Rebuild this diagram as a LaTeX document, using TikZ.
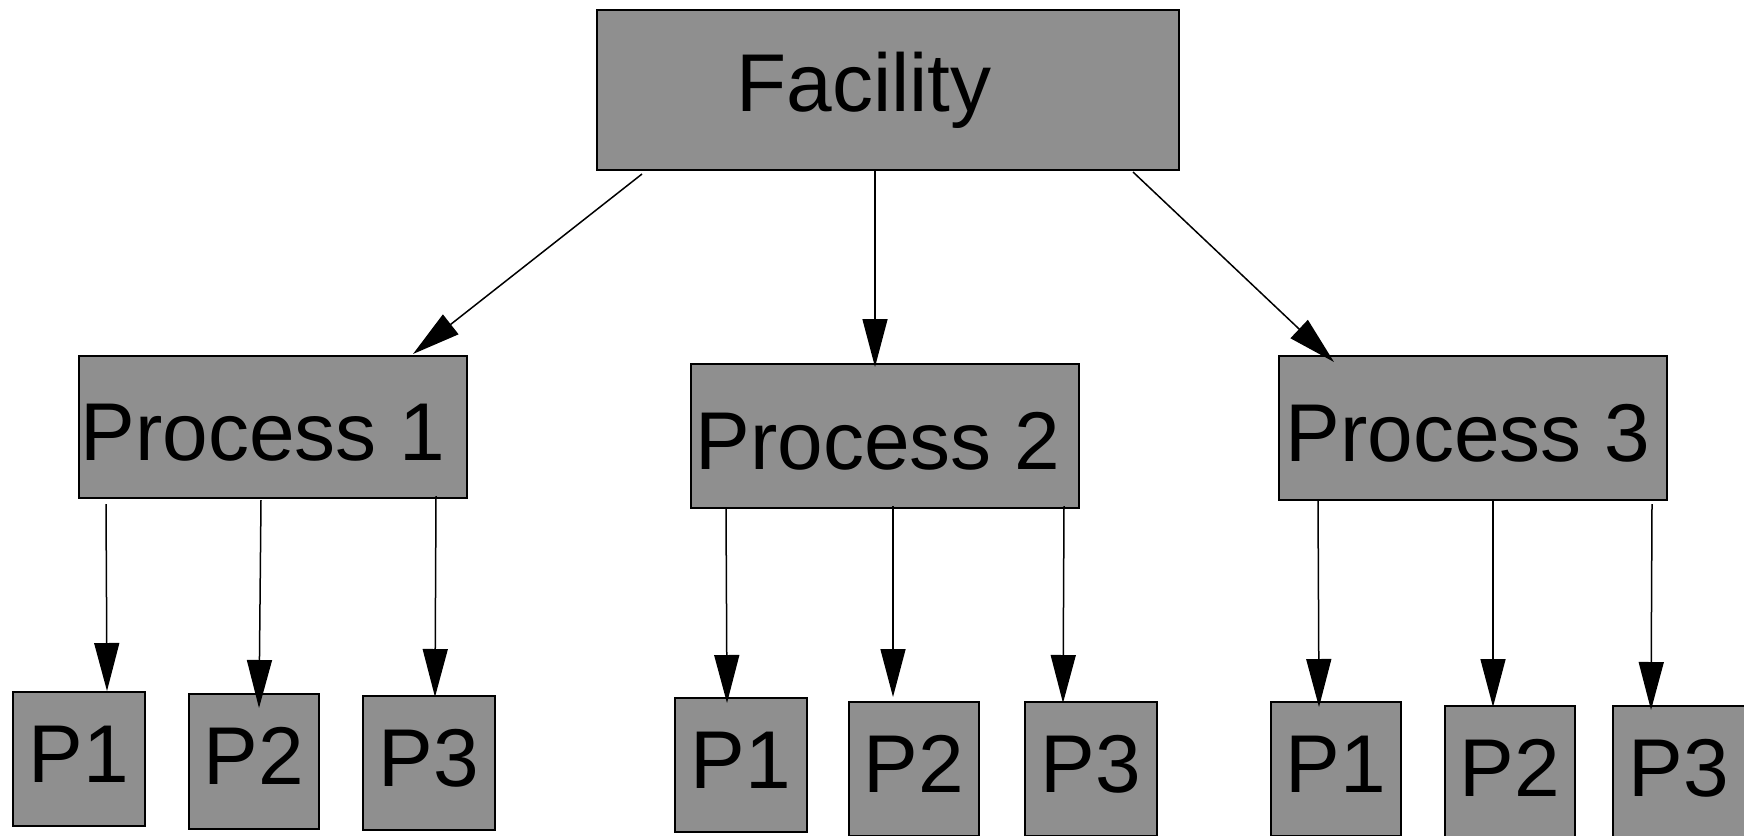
\documentclass[tikz,border=0pt]{standalone}
\usepackage{fontspec}
\setmainfont{Liberation Sans}
\usetikzlibrary{arrows.meta,calc}
\definecolor{boxgray}{RGB}{143,143,143}
\begin{document}
\begin{tikzpicture}[x=0.5pt,y=-0.5pt,
  box/.style={draw=black,line width=1pt,fill=boxgray,inner sep=0pt,
    font=\fontsize{41pt}{49pt}\selectfont},
  sz/.style 2 args={minimum width=#1*0.5pt,minimum height=#2*0.5pt},
  small/.style={text height=29.4pt,text depth=6pt},
  mid/.style={text height=33pt,text depth=0pt},
  arr/.style={line width=0.75pt,-{Triangle[length=24pt,width=12.5pt]}}]
\useasboundingbox (0,0) rectangle (1744,835);
\clip (0,0) rectangle (1744,835);
% top
\node[box,sz={582}{160}] (fac) at (888,90) {Facility\hspace*{24pt}};
% middle
\node[box,mid,sz={388}{142}] (pr1) at (273,427) {Process 1\hspace*{10pt}};
\node[box,mid,sz={388}{144}] (pr2) at (885,436) {Process 2\hspace*{7pt}};
\node[box,mid,sz={388}{144}] (pr3) at (1473,428) {Process 3\hspace*{5pt}};
% bottom
\node[box,small,sz={132}{134}] (a1) at (79,759) {P1};
\node[box,small,sz={130}{135}] (a2) at (254,761.5) {P2};
\node[box,small,sz={132}{134}] (a3) at (429,763) {P3};
\node[box,small,sz={132}{134}] (b1) at (741,765) {P1};
\node[box,small,sz={130}{134}] (b2) at (914,769) {P2};
\node[box,small,sz={132}{134}] (b3) at (1091,769) {P3};
\node[box,small,sz={130}{134}] (c1) at (1336,769) {P1};
\node[box,small,sz={130}{134}] (c2) at (1510,773) {P2};
\node[box,small,sz={132}{134}] (c3) at (1679,773) {P3};
% connectors from facility
\draw[arr] ($(fac.south west)+(46,3)$) -- ($(pr1.north)+(140,-1)$);
\draw[arr] ($(fac.south)+(-13,0)$) -- ($(pr2.north)+(-10,4)$);
\draw[arr] ($(fac.south east)+(-47,1)$) -- ($(pr3.north west)+(56,7)$);
% process 1
\draw[arr] ($(pr1.south west)+(28,5)$) -- ($(a1.north)+(28,0)$);
\draw[arr] ($(pr1.south)+(-12,1)$) -- ($(a2.north)+(5,15)$);
\draw[arr] ($(pr1.south east)+(-32,-3)$) -- ($(a3.north)+(6,2)$);
% process 2
\draw[arr] ($(pr2.south west)+(36,0)$) -- ($(b1.north)+(-14,6)$);
\draw[arr] ($(pr2.south)+(8,-3)$) -- ($(b2.north)+(-21,-4)$);
\draw[arr] ($(pr2.south east)+(-16,-3)$) -- ($(b3.north)+(-28,2)$);
% process 3
\draw[arr] ($(pr3.south west)+(40,0)$) -- ($(c1.north)+(-17,6)$);
\draw[arr] ($(pr3.south)+(20,0)$) -- ($(c2.north)+(-17,2)$);
\draw[arr] ($(pr3.south east)+(-16,3)$) -- ($(c3.north)+(-28,5)$);
\end{tikzpicture}
\end{document}
